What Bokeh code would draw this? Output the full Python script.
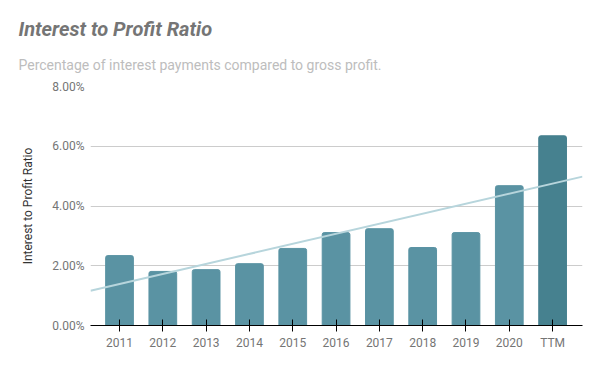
import numpy as np
from bokeh.plotting import figure
from bokeh.models import ColumnDataSource, Title, FixedTicker, NumeralTickFormatter, Range1d
from bokeh.embed import file_html
from bokeh.resources import INLINE

categories = ["2011", "2012", "2013", "2014", "2015", "2016", "2017", "2018", "2019", "2020", "TTM"]
ratio = [0.0234, 0.0181, 0.0187, 0.0207, 0.0258, 0.0311, 0.0324, 0.0261, 0.0311, 0.0468, 0.0635]
bar_colors = ["#5a93a3"] * 10 + ["#46818f"]
y_ticks = [0.0, 0.02, 0.04, 0.06, 0.08]

xs = list(range(len(categories)))
FONT = "Roboto"

p = figure(width=592, height=363, output_backend="svg", toolbar_location=None,
           title=None, x_range=Range1d(-0.67, 10.69), y_range=Range1d(0, 0.08))
p.min_border_left = 90
p.min_border_right = 10
p.min_border_top = 86
p.min_border_bottom = 38
p.outline_line_color = None

src = ColumnDataSource(dict(x=xs, top=ratio, color=bar_colors))
p.vbar(x="x", top="top", width=0.64, color="color", source=src, border_radius=(2, 2, 0, 0))

# trendline (least squares)
k, b = np.polyfit(xs, ratio, 1)
tx = [-0.67, 10.69]
p.line(tx, [k * t + b for t in tx], line_color="#b7d5dc", line_width=2)

# axes
p.xaxis.ticker = FixedTicker(ticks=xs)
p.xaxis.major_label_overrides = {i: c for i, c in enumerate(categories)}
p.xaxis.major_label_text_font = FONT
p.xaxis.major_label_text_font_size = "12px"
p.xaxis.major_label_text_color = "#757575"
p.xaxis.axis_line_color = "black"
p.xaxis.major_tick_line_color = "black"
p.xaxis.major_tick_in = 6
p.xaxis.major_tick_out = 6
p.xaxis.minor_tick_line_color = None
p.xaxis.major_label_standoff = 4

p.yaxis.ticker = FixedTicker(ticks=y_ticks)
p.yaxis.formatter = NumeralTickFormatter(format="0.00%")
p.yaxis.major_label_text_font = FONT
p.yaxis.major_label_text_font_size = "12px"
p.yaxis.major_label_text_color = "#757575"
p.yaxis.axis_line_color = None
p.yaxis.major_tick_line_color = None
p.yaxis.major_tick_out = 0
p.yaxis.major_tick_in = 0
p.yaxis.minor_tick_line_color = None
p.yaxis.major_label_standoff = 6
p.yaxis.axis_label = "Interest to Profit Ratio"
p.yaxis.axis_label_text_font = FONT
p.yaxis.axis_label_text_font_size = "12px"
p.yaxis.axis_label_text_font_style = "normal"
p.yaxis.axis_label_text_color = "#333333"
p.yaxis.axis_label_standoff = 14

p.xgrid.grid_line_color = None
p.ygrid.grid_line_color = "#cccccc"

sub = Title(text="Percentage of interest payments compared to gross profit.", align="left",
            text_font=FONT, text_font_size="14px", text_font_style="normal",
            text_color="#bdbdbd", offset=-72, standoff=27)
p.add_layout(sub, "above")
main = Title(text="Interest to Profit Ratio", align="left",
             text_font=FONT, text_font_size="20px", text_font_style="bold italic",
             text_color="#757575", offset=-72, standoff=2)
p.add_layout(main, "above")

open("out.html", "w").write(file_html(p, INLINE))
